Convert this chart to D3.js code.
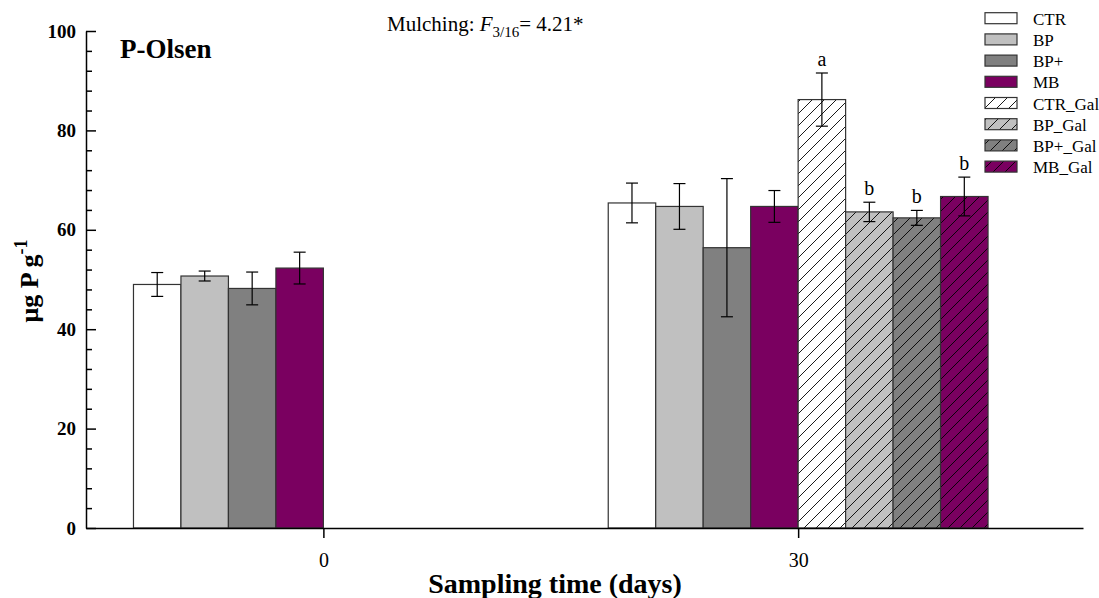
<!DOCTYPE html>
<html>
<head>
<meta charset="utf-8">
<script src="https://cdn.jsdelivr.net/npm/d3@7"></script>
<style>
  body { margin: 0; background: #fff; }
  svg text { font-family: 'Liberation Serif', 'Times New Roman', serif; fill: #000; }
</style>
</head>
<body>
<svg id="chart" width="1099" height="598"></svg>
<script>
const days = [0, 30]
const treatments = ['CTR', 'BP', 'BP+', 'MB', 'CTR_Gal', 'BP_Gal', 'BP+_Gal', 'MB_Gal']
const fills = ['#ffffff', '#c0c0c0', '#808080', '#7a0060', '#ffffff', '#c0c0c0', '#808080', '#7a0060']
const hatched = [false, false, false, false, true, true, true, true]

// day 0 only has the four unmulched treatments
const day0Means = [49.0, 50.7, 48.2, 52.3]
const day0Err = [2.4, 1.0, 3.3, 3.2]
const day30Means = [65.4, 64.7, 56.4, 64.7, 86.2, 63.6, 62.4, 66.7]
const day30Err = [4.0, 4.6, 13.9, 3.2, 5.35, 1.95, 1.5, 3.9]
const day30Letters = ['', '', '', '', 'a', 'b', 'b', 'b']

const yTicks = [0, 20, 40, 60, 80, 100]
const yMinorTicks = [4, 8, 12, 16, 24, 28, 32, 36, 44, 48, 52, 56, 64, 68, 72, 76, 84, 88, 92, 96]

const serif = 'Liberation Serif, Times New Roman, serif'

let rows = []
day0Means.forEach((v, i) => rows.push({ day: days[0], idx: i, mean: v, err: day0Err[i], letter: '' }))
day30Means.forEach((v, i) => rows.push({ day: days[1], idx: i, mean: v, err: day30Err[i], letter: day30Letters[i] }))

const svg = d3.select('#chart').attr('font-family', serif)
const barDays = 3

const x = d3.scaleLinear().domain([-15, 48]).range([86, 1083])
const y = d3.scaleLinear().domain([0, 100]).range([528, 31])

// hatch patterns
const defs = svg.append('defs')
treatments.forEach((t, i) => {
  if (!hatched[i]) return
  let p = defs.append('pattern')
    .attr('id', 'hatch' + i)
    .attr('patternUnits', 'userSpaceOnUse')
    .attr('width', 12)
    .attr('height', 12)
  p.append('rect').attr('width', 12).attr('height', 12).attr('fill', fills[i])
  p.append('path')
    .attr('d', 'M0,12 L12,0 M-3,3 L3,-3 M9,15 L15,9')
    .attr('stroke', '#000')
    .attr('stroke-width', 0.9)
})
const fillOf = i => hatched[i] ? 'url(#hatch' + i + ')' : fills[i]

// bars
const barX0 = d => x(d.day + (d.idx - 4) * barDays)
const barX1 = d => x(d.day + (d.idx - 3) * barDays)
svg.append('g').selectAll('rect')
  .data(rows)
  .enter().append('rect')
  .attr('x', d => barX0(d))
  .attr('y', d => y(d.mean))
  .attr('width', d => barX1(d) - barX0(d))
  .attr('height', d => y(0) - y(d.mean))
  .attr('fill', d => fillOf(d.idx))
  .attr('stroke', '#333')
  .attr('stroke-width', 1.2)

// error bars
const cx = d => (barX0(d) + barX1(d)) / 2
let eb = svg.append('g').attr('stroke', '#000').attr('stroke-width', 1.2)
rows.forEach(d => {
  let c = cx(d)
  let top = y(d.mean + d.err)
  let bot = y(d.mean - d.err)
  eb.append('line').attr('x1', c).attr('x2', c).attr('y1', top).attr('y2', bot)
  eb.append('line').attr('x1', c - 6).attr('x2', c + 6).attr('y1', top).attr('y2', top)
  eb.append('line').attr('x1', c - 6).attr('x2', c + 6).attr('y1', bot).attr('y2', bot)
})

svg.append('g').selectAll('text')
  .data(rows.filter(d => d.letter))
  .enter().append('text')
  .attr('x', d => cx(d))
  .attr('y', d => y(d.mean + d.err) - 7)
  .attr('text-anchor', 'middle')
  .style('font-size', '20px')
  .text(d => d.letter)

// axes
const yAxis = d3.axisLeft(y).tickValues(yTicks).tickSize(-10).tickSizeOuter(0).tickPadding(10)
const yAxisMinor = d3.axisLeft(y).tickValues(yMinorTicks).tickSize(-6).tickSizeOuter(0).tickFormat('')
const xAxis = d3.axisBottom(x).tickValues(days).tickSize(10).tickSizeOuter(0).tickPadding(15)

const yG = svg.append('g').attr('transform', 'translate(86,0)').call(yAxis)
svg.append('g').attr('transform', 'translate(86,0)').call(yAxisMinor)
  .select('.domain').remove()
const xG = svg.append('g').attr('transform', 'translate(0,528)').call(xAxis)

yG.attr('font-family', serif).attr('font-size', 19).attr('font-weight', 'bold')
yG.selectAll('text').attr('font-family', serif)
xG.attr('font-family', serif).attr('font-size', 20)
xG.selectAll('text').attr('font-family', serif)
svg.selectAll('.domain').attr('stroke', '#000').attr('stroke-width', 1.5)
svg.selectAll('.tick line').attr('stroke', '#000').attr('stroke-width', 1.5)

// axis titles
svg.append('text')
  .attr('x', 555)
  .attr('y', 593)
  .attr('text-anchor', 'middle')
  .style('font-size', '28px')
  .style('font-weight', 'bold')
  .text('Sampling time (days)')

let yl = svg.append('text')
  .attr('transform', 'translate(38,281) rotate(-90)')
  .attr('text-anchor', 'middle')
  .style('font-size', '26px')
  .style('font-weight', 'bold')
yl.append('tspan').text('μg P g')
yl.append('tspan').attr('dy', -11).style('font-size', '18px').text('-1')

// panel label and stats
svg.append('text')
  .attr('x', 120)
  .attr('y', 58)
  .style('font-size', '27px')
  .style('font-weight', 'bold')
  .text('P-Olsen')

let st = svg.append('text')
  .attr('x', 387)
  .attr('y', 31)
  .style('font-size', '21px')
st.append('tspan').text('Mulching: ')
st.append('tspan').style('font-style', 'italic').text('F')
st.append('tspan').attr('dy', 6).style('font-size', '15px').text('3/16')
st.append('tspan').attr('dy', -6).text('= 4.21*')

// legend
let lg = svg.append('g').attr('transform', 'translate(985,0)')
treatments.forEach((t, i) => {
  let yy = 12.7 + i * 21.2
  lg.append('rect')
    .attr('x', 0)
    .attr('y', yy)
    .attr('width', 32)
    .attr('height', 11)
    .attr('fill', fillOf(i))
    .attr('stroke', '#333')
    .attr('stroke-width', 1.2)
  lg.append('text')
    .attr('x', 48)
    .attr('y', yy + 12)
    .style('font-size', '17px')
    .text(t)
})
</script>
</body>
</html>
